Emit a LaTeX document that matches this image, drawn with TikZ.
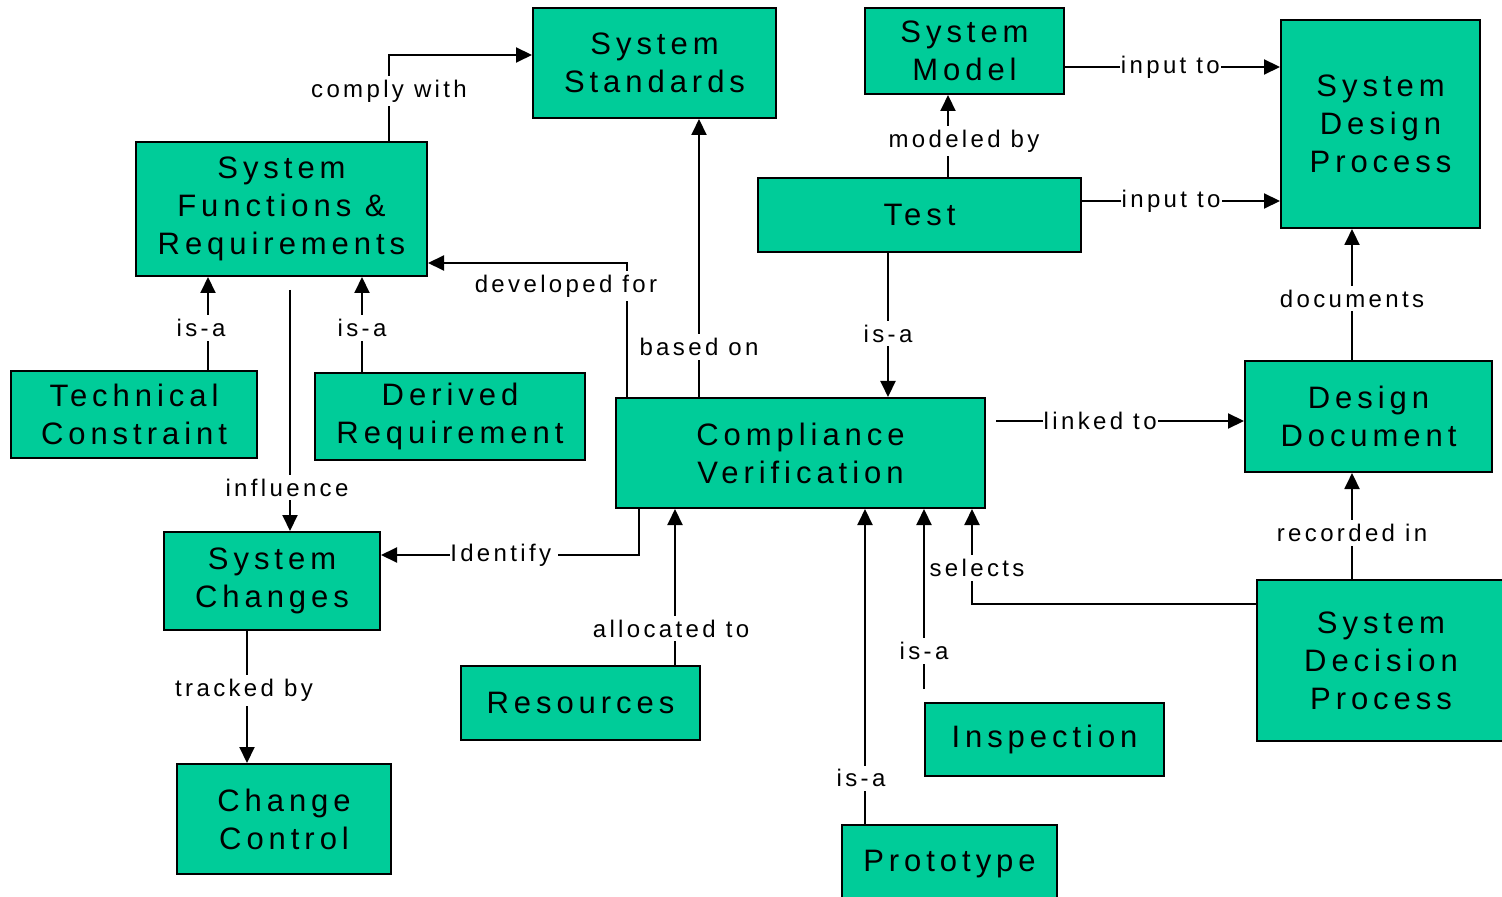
\documentclass[tikz,border=0pt]{standalone}
\usepackage{fontspec}
\setmainfont{Liberation Sans}
\newfontfamily\boxfont{Liberation Sans}[LetterSpace=16]
\newfontfamily\labfont{Liberation Sans}[LetterSpace=14]
\usetikzlibrary{arrows.meta,calc}
\definecolor{boxgreen}{RGB}{0,204,153}
\begin{document}
\begin{tikzpicture}[x=0.5pt,y=-0.5pt,
  box/.style={draw=black,line width=1pt,fill=boxgreen,inner sep=0pt,align=center,
    font=\boxfont\fontsize{15.5}{19}\selectfont},
  conn/.style={draw=black,line width=1pt,-{Triangle[length=8pt,width=7.5pt]}},
  lab/.style={fill=white,inner xsep=0.5pt,inner ysep=2pt,
    font=\labfont\fontsize{12}{14}\selectfont}]
\useasboundingbox (0,0) rectangle (1502,897);

% concept boxes
\node[box,minimum width=121.5pt,minimum height=55pt]  (std)   at (654.5,63)   {System\\Standards};
\node[box,minimum width=99.5pt, minimum height=43pt]  (model) at (964.5,51)   {System\\Model};
\node[box,minimum width=99.5pt, minimum height=104pt] (sdp)   at (1380.5,124) {System\\Design\\Process};
\node[box,minimum width=145.5pt,minimum height=67pt]  (sfr)   at (281.5,209)  {System\\Functions \&\\Requirements};
\node[box,minimum width=161.5pt,minimum height=37pt]  (test)  at (919.5,215)  {Test};
\node[box,minimum width=123pt,  minimum height=43.5pt](tech)  at (134,414.5)  {Technical\\Constraint};
\node[box,minimum width=135pt,  minimum height=43.5pt](der)   at (450,416.5)  {Derived\\Requirement};
\node[box,minimum width=184.5pt,minimum height=55pt]  (cv)    at (800.5,453)  {Compliance\\Verification};
\node[box,minimum width=123.5pt,minimum height=55.5pt](ddoc)  at (1368.5,416.5) {Design\\Document};
\node[box,minimum width=108pt,  minimum height=49pt]  (chg)   at (272,581)    {System\\Changes};
\node[box,minimum width=119.5pt,minimum height=37pt]  (res)   at (580.5,703)  {\raisebox{-1pt}{Resources}};
\node[box,minimum width=124pt,  minimum height=80.5pt](sdec)  at (1381,660.5)  {System\\Decision\\Process};
\node[box,minimum width=119.5pt,minimum height=36.5pt](insp)  at (1044.5,739.5) {\raisebox{-1.5pt}{Inspection}};
\node[box,minimum width=107pt,  minimum height=55pt]  (cc)    at (284,819)    {Change\\Control};
\node[box,minimum width=107.5pt,minimum height=39pt]  (proto) at (949.5,864)  {\raisebox{-1pt}{Prototype}};

% relations
\draw[conn] ($(sfr.north west)+(254,0)$) |- node[lab,pos=0.29] (l1) {comply with} ($(std.north west)+(0,48)$);

\coordinate (b0) at ($(cv.north west)+(84,0)$);
\draw[conn] (b0) -- node[lab,pos=0.18] (l2) {based on} (b0 |- std.south);

\draw[conn] ($(cv.north west)+(12,0)$) |- ($(sfr.north east)+(0,122)$);
\node[lab] (l3) at (566,286) {developed for};

\coordinate (t0) at ($(test.south west)+(131,0)$);
\draw[conn] (t0) -- node[lab,pos=0.56] (l4) {is-a} (t0 |- cv.north);

\coordinate (m0) at ($(test.north west)+(191,0)$);
\draw[conn] (m0) -- node[lab,pos=0.44,xshift=8pt] (l5) {modeled by} (m0 |- model.south);

\coordinate (i1) at ($(model.north east)+(0,60)$);
\draw[conn] (i1) -- node[lab,pos=0.49] (l6) {input to} (i1 -| sdp.west);

\coordinate (i2) at ($(test.north east)+(0,24)$);
\draw[conn] (i2) -- node[lab,pos=0.45] (l7) {input to} (i2 -| sdp.west);

\coordinate (d0) at ($(ddoc.north west)+(108,0)$);
\draw[conn] (d0) -- node[lab,pos=0.47] (l8) {documents} (d0 |- sdp.south);

\coordinate (k0) at ($(cv.north east)+(10,24)$);
\draw[conn] (k0) -- node[lab,pos=0.42] (l9) {linked to} (k0 -| ddoc.west);

\coordinate (r0) at ($(sdec.north west)+(96,0)$);
\draw[conn] (r0) -- node[lab,pos=0.435] (l10) {recorded in} (r0 |- ddoc.south);

\draw[conn] ($(sdec.north west)+(0,25)$) -| node[lab,pos=0.69,xshift=2.5pt] (l11) {selects} ($(cv.south west)+(357,0)$);

\coordinate (n0) at ($(insp.north west)+(0,-13)$);
\draw[conn] (n0) -- node[lab,pos=0.21] (l12) {is-a} (n0 |- cv.south);

\coordinate (p0) at ($(proto.north west)+(24,0)$);
\draw[conn] (p0) -- node[lab,pos=0.145,xshift=-2pt] (l13) {is-a} (p0 |- cv.south);

\coordinate (a0) at ($(res.north west)+(215,0)$);
\draw[conn] (a0) -- node[lab,pos=0.234,xshift=-2pt] (l14) {allocated to} (a0 |- cv.south);

\draw[conn] ($(cv.south west)+(24,0)$) |- node[lab,pos=0.765,inner xsep=0pt,text width=54pt,align=left,xshift=1pt] (l15) {Identify} ($(chg.north east)+(0,24)$);

\coordinate (f0) at ($(sfr.south west)+(155,13)$);
\draw[conn] (f0) -- node[lab,pos=0.82,xshift=-1.5pt] (l16) {influence} (f0 |- chg.north);

\coordinate (e0) at ($(tech.north west)+(198,0)$);
\draw[conn] (e0) -- node[lab,pos=0.45,xshift=-3.5pt] (l17) {is-a} (e0 |- sfr.south);

\coordinate (e1) at ($(der.north west)+(48,0)$);
\draw[conn] (e1) -- node[lab,pos=0.46] (l18) {is-a} (e1 |- sfr.south);

\coordinate (g0) at ($(chg.south west)+(84,0)$);
\draw[conn] (g0) -- node[lab,pos=0.45,xshift=-1.5pt] (l19) {tracked by} (g0 |- cc.north);
\end{tikzpicture}
\end{document}
